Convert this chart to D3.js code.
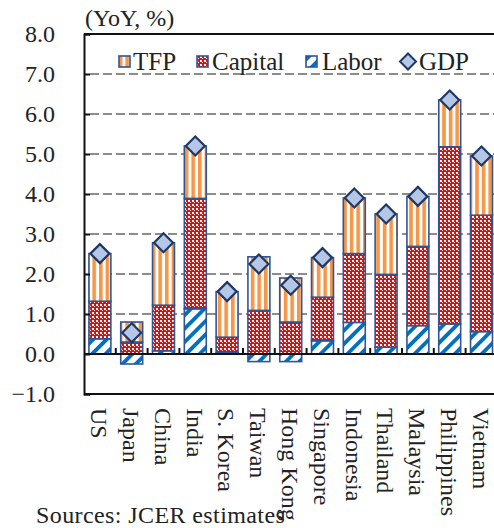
<!DOCTYPE html>
<html>
<head>
<meta charset="utf-8">
<script src="https://cdn.jsdelivr.net/npm/d3@7"></script>
<style>
  body { margin: 0; background: #fff; }
  svg { display: block; }
  text { font-family: "Liberation Serif", "Times New Roman", serif; fill: #222; }
</style>
</head>
<body>
<svg id="chart" width="494" height="528"></svg>
<script>
// Growth decomposition by economy (YoY, %)
const categories = ["US", "Japan", "China", "India", "S. Korea", "Taiwan", "Hong Kong",
                    "Singapore", "Indonesia", "Thailand", "Malaysia", "Philippines", "Vietnam"];
const labor   = [0.38, -0.25, 0.08, 1.13, 0.03, -0.19, -0.19, 0.33, 0.79, 0.17, 0.71, 0.75, 0.56];
const capital = [0.94,  0.30, 1.14, 2.76, 0.39,  1.09,  0.80, 1.09, 1.72, 1.82, 1.98, 4.43, 2.91];
const tfp     = [1.19,  0.50, 1.56, 1.31, 1.14,  1.34,  1.10, 0.99, 1.39, 1.51, 1.25, 1.17, 1.48];
const gdp     = [2.51,  0.53, 2.78, 5.20, 1.56,  2.25,  1.72, 2.41, 3.90, 3.50, 3.94, 6.35, 4.95];
const yTicks  = [-1, 0, 1, 2, 3, 4, 5, 6, 7, 8];
const stackKeys = ["Labor", "Capital", "TFP"];
const legendItems = ["TFP", "Capital", "Labor", "GDP"];
const unitLabel = "(YoY, %)";
const sourceNote = "Sources: JCER estimates";

const svg = d3.select("#chart");
const plotLeft = 84, plotTop = 34, plotBottom = 394, plotRight = 497.4;

const x = d3.scaleBand().domain(categories).range([plotLeft, plotRight])
  .paddingInner(0.31).paddingOuter(0.155);
const y = d3.scaleLinear().domain([-1, 8]).range([plotBottom, plotTop]);

// ---- fill patterns ----
const defs = svg.append("defs");
const pTfp = defs.append("pattern").attr("id", "pat-tfp")
  .attr("patternUnits", "userSpaceOnUse").attr("width", 6.6).attr("height", 10);
pTfp.append("rect").attr("width", 6.6).attr("height", 10).attr("fill", "#fff");
pTfp.append("rect").attr("x", 0).attr("width", 3.6).attr("height", 10).attr("fill", "#F79646");

// small red checks with white dots
const pCap = defs.append("pattern").attr("id", "pat-cap")
  .attr("patternUnits", "userSpaceOnUse").attr("width", 4).attr("height", 4);
pCap.append("rect").attr("width", 4).attr("height", 4).attr("fill", "#FF0000");
pCap.append("rect").attr("x", 0).attr("y", 0).attr("width", 2).attr("height", 2).attr("fill", "#fff");
pCap.append("rect").attr("x", 2).attr("y", 2).attr("width", 1).attr("height", 1).attr("fill", "#fff");

// wide blue diagonal stripes rising to the right
const pLab = defs.append("pattern").attr("id", "pat-lab")
  .attr("patternUnits", "userSpaceOnUse").attr("width", 9.5).attr("height", 10)
  .attr("patternTransform", "rotate(45)");
pLab.append("rect").attr("width", 9.5).attr("height", 10).attr("fill", "#fff");
pLab.append("rect").attr("width", 3.8).attr("height", 10).attr("fill", "#0070C0");

const fills = { TFP: "url(#pat-tfp)", Capital: "url(#pat-cap)", Labor: "url(#pat-lab)" };
const barStroke = "#2F5597";

// ---- gridlines ----
svg.append("g").selectAll("line")
  .data(yTicks.filter(v => v > 0 && v < 8))
  .join("line")
  .attr("x1", plotLeft + 6).attr("x2", 494)
  .attr("y1", d => y(d)).attr("y2", d => y(d))
  .attr("stroke", "#8c8c8c").attr("stroke-width", 2).attr("stroke-dasharray", "9,4");

// ---- stacked bars ----
const rows = categories.map((c, i) => ({ cat: c, Labor: labor[i], Capital: capital[i], TFP: tfp[i] }));
const stacked = d3.stack().keys(stackKeys).offset(d3.stackOffsetDiverging)(rows);

svg.append("g").selectAll("g")
  .data(stacked)
  .join("g")
  .attr("fill", d => fills[d.key])
  .selectAll("rect")
  .data(d => d)
  .join("rect")
  .attr("x", d => x(d.data.cat))
  .attr("width", x.bandwidth())
  .attr("y", d => y(Math.max(d[0], d[1])))
  .attr("height", d => Math.abs(y(d[0]) - y(d[1])))
  .attr("stroke", barStroke).attr("stroke-width", 1.6);

// ---- axes frame ----
svg.append("line").attr("x1", plotLeft).attr("x2", 494).attr("y1", plotTop).attr("y2", plotTop)
  .attr("stroke", "#111").attr("stroke-width", 2);
svg.append("line").attr("x1", plotLeft).attr("x2", 494).attr("y1", plotBottom).attr("y2", plotBottom)
  .attr("stroke", "#111").attr("stroke-width", 2);
svg.append("line").attr("x1", plotLeft).attr("x2", 494).attr("y1", y(0)).attr("y2", y(0))
  .attr("stroke", "#111").attr("stroke-width", 2);

// category boundary ticks on the zero line
const step = x.step();
svg.append("g").selectAll("line")
  .data(categories.slice(1))
  .join("line")
  .attr("x1", d => x(d) - (step - x.bandwidth()) / 2)
  .attr("x2", d => x(d) - (step - x.bandwidth()) / 2)
  .attr("y1", y(0)).attr("y2", y(0) - 6)
  .attr("stroke", "#111").attr("stroke-width", 2);

// value axis
const yAxis = d3.axisLeft(y).tickValues(yTicks).tickSize(-6).tickPadding(29)
  .tickFormat(d3.format(".1f"));
const gy = svg.append("g").attr("transform", `translate(${plotLeft},0)`).call(yAxis);
gy.attr("font-family", null);
gy.select(".domain").attr("stroke", "#111").attr("stroke-width", 2);
gy.selectAll(".tick line").attr("stroke", "#111").attr("stroke-width", 2);
gy.selectAll(".tick text")
  .style("font-family", "'Liberation Serif', serif").style("font-size", "24px")
  .attr("fill", "#222");

// ---- GDP markers ----
const diamond = 9.5;
svg.append("g").selectAll("path")
  .data(categories)
  .join("path")
  .attr("d", (c, i) => {
    const cx = x(c) + x.bandwidth() / 2, cy = y(gdp[i]);
    return `M${cx},${cy - diamond}L${cx + diamond},${cy}L${cx},${cy + diamond}L${cx - diamond},${cy}Z`;
  })
  .attr("fill", "#B4C7E7").attr("stroke", "#1F3864").attr("stroke-width", 2.2)
  .attr("stroke-linejoin", "miter");

// ---- category labels ----
svg.append("g").selectAll("text")
  .data(categories)
  .join("text")
  .attr("transform", c => `translate(${x(c) + x.bandwidth() / 2},408) rotate(90)`)
  .attr("dy", "0.36em")
  .style("font-size", "24px")
  .text(c => c);

// ---- unit label & source ----
svg.append("text").attr("x", 85).attr("y", 26).style("font-size", "24px").text(unitLabel);
svg.append("text").attr("x", 36).attr("y", 523).style("font-size", "24px")
  .style("letter-spacing", "0.4px").text(sourceNote);

// ---- legend ----
const legendPos = { TFP: [119, 133], Capital: [197, 212], Labor: [306, 322], GDP: [408, 419] };
const lg = svg.append("g");
legendItems.forEach(name => {
  const [sx, tx] = legendPos[name];
  const cy = 61.5;
  if (name === "GDP") {
    const r = 8;
    lg.append("path")
      .attr("d", `M${sx},${cy - r}L${sx + r},${cy}L${sx},${cy + r}L${sx - r},${cy}Z`)
      .attr("fill", "#B4C7E7").attr("stroke", "#1F3864").attr("stroke-width", 2);
  } else {
    lg.append("rect").attr("x", sx).attr("y", cy - 5.5).attr("width", 11).attr("height", 11)
      .attr("fill", fills[name]).attr("stroke", barStroke).attr("stroke-width", 1.6);
  }
  lg.append("text").attr("x", tx).attr("y", cy).attr("dy", "0.35em")
    .style("font-size", "25px").text(name);
});
</script>
</body>
</html>
